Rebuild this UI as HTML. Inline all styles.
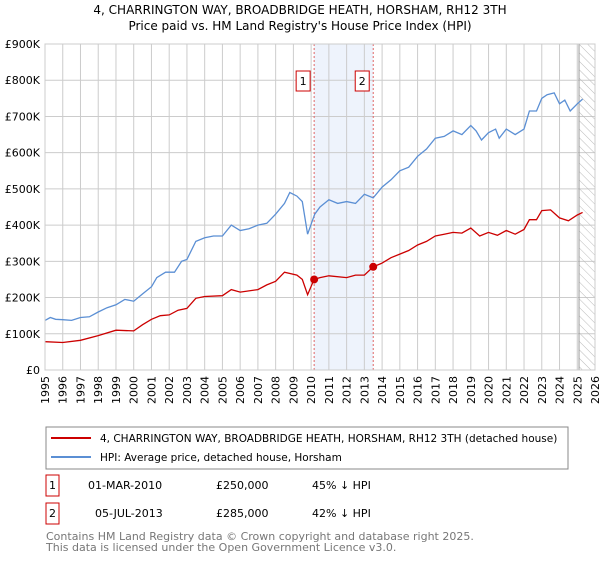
<!DOCTYPE html>
<html><head><meta charset="utf-8"><style>
body{margin:0;background:#fff;font-family:"Liberation Sans","DejaVu Sans",sans-serif}
svg text{font-family:"DejaVu Sans","Liberation Sans",sans-serif}
</style></head><body>
<svg id="c" width="600" height="560" xmlns="http://www.w3.org/2000/svg">
<defs><pattern id="hatch" width="6" height="6" patternUnits="userSpaceOnUse" patternTransform="rotate(-45)"><line x1="0" y1="0" x2="0" y2="6" stroke="#bbb" stroke-width="1"/></pattern></defs>
<text x="300" y="14" text-anchor="middle" font-size="12">4, CHARRINGTON WAY, BROADBRIDGE HEATH, HORSHAM, RH12 3TH</text>
<text x="300" y="30" text-anchor="middle" font-size="12">Price paid vs. HM Land Registry's House Price Index (HPI)</text>
<g id="plot"></g>
<rect x="46" y="427" width="522" height="42" fill="#fff" stroke="#888"/>
<line x1="51" y1="438" x2="91" y2="438" stroke="#cc0000" stroke-width="2"/>
<text x="100" y="442" font-size="10.5">4, CHARRINGTON WAY, BROADBRIDGE HEATH, HORSHAM, RH12 3TH (detached house)</text>
<line x1="51" y1="457" x2="91" y2="457" stroke="#5b8fd4" stroke-width="2"/>
<text x="100" y="461" font-size="10.5">HPI: Average price, detached house, Horsham</text>
<g font-size="11">
<rect x="46" y="475" width="13" height="21" fill="#fff" stroke="#cc0000"/><text x="52.5" y="489" text-anchor="middle">1</text>
<text x="88" y="489">01-MAR-2010</text><text x="216" y="489">£250,000</text><text x="312" y="489">45% ↓ HPI</text></g>
<g font-size="11">
<rect x="46" y="503" width="13" height="21" fill="#fff" stroke="#cc0000"/><text x="52.5" y="517" text-anchor="middle">2</text>
<text x="95" y="517">05-JUL-2013</text><text x="216" y="517">£285,000</text><text x="312" y="517">42% ↓ HPI</text></g>
<text x="46" y="540" font-size="11" fill="#777">Contains HM Land Registry data © Crown copyright and database right 2025.</text>
<text x="46" y="551" font-size="11" fill="#777">This data is licensed under the Open Government Licence v3.0.</text>
</svg>
<script>
const hpiYears=[1995,1995.3,1995.6,1996,1996.5,1997,1997.5,1998,1998.5,1999,1999.5,2000,2000.5,2001,2001.3,2001.8,2002.3,2002.7,2003,2003.5,2004,2004.5,2005,2005.5,2006,2006.5,2007,2007.5,2008,2008.5,2008.8,2009.2,2009.5,2009.8,2010.2,2010.5,2011,2011.5,2012,2012.5,2013,2013.5,2014,2014.5,2015,2015.5,2016,2016.5,2017,2017.5,2018,2018.5,2019,2019.3,2019.6,2020,2020.4,2020.6,2021,2021.5,2022,2022.3,2022.7,2023,2023.3,2023.7,2024,2024.3,2024.6,2025,2025.3];
const hpiValues=[137,145,140,139,137,145,147,160,172,180,195,190,210,230,255,270,270,300,305,355,365,370,370,400,385,390,400,405,430,460,490,480,465,375,430,450,470,460,465,460,485,475,505,525,550,560,590,610,640,645,660,650,675,660,635,655,665,640,665,650,665,715,715,750,760,765,735,745,715,735,748];
const priceYears=[1995,1996,1997,1998,1999,2000,2000.5,2001,2001.5,2002,2002.5,2003,2003.5,2004,2005,2005.5,2006,2007,2007.5,2008,2008.5,2009.2,2009.5,2009.8,2010.17,2010.5,2011,2012,2012.5,2013,2013.5,2014,2014.5,2015,2015.5,2016,2016.5,2017,2017.5,2018,2018.5,2019,2019.5,2020,2020.5,2021,2021.5,2022,2022.3,2022.7,2023,2023.5,2024,2024.5,2025,2025.3];
const priceValues=[78,76,82,95,110,108,125,140,150,152,165,170,198,203,205,222,215,222,235,245,270,262,250,208,250,255,260,255,262,262,285,295,310,320,330,345,355,370,375,380,378,392,370,380,372,385,375,388,415,415,440,442,420,412,428,435];
const saleYears=[2010.17,2013.5];
const saleValues=[250,285];
const saleLabels=["1","2"];
const yTicks=[0,100,200,300,400,500,600,700,800,900];
const yTickLabels=["£0","£100K","£200K","£300K","£400K","£500K","£600K","£700K","£800K","£900K"];
const xTicks=[];for(let y=1995;y<=2026;y++)xTicks.push(y);
const L=45,R=595,T=44,B=370,Y0=1995,Y1=2026,VMAX=900;
const sx=y=>L+(y-Y0)/(Y1-Y0)*(R-L);
const sy=v=>B-v/VMAX*(B-T);
const NS="http://www.w3.org/2000/svg";
const g=document.getElementById('plot');
function mk(t,a){const e=document.createElementNS(NS,t);for(const k in a)e.setAttribute(k,a[k]);g.appendChild(e);return e;}
let e=mk('rect',{x:sx(saleYears[0]),y:T,width:sx(saleYears[1])-sx(saleYears[0]),height:B-T,fill:'#eef3fc'});


xTicks.forEach(y=>{const l=mk('line',{x1:sx(y),x2:sx(y),y1:T,y2:B,stroke:'#ccc'});


const t=mk('text',{x:0,y:0,'font-size':11,'text-anchor':'end',transform:`translate(${sx(y)+4},${B+6}) rotate(-90)`});t.textContent=y;

});
yTicks.forEach((v,i)=>{const l=mk('line',{x1:L,x2:R,y1:sy(v),y2:sy(v),stroke:'#ccc'});


const t=mk('text',{x:L-5,y:sy(v)+4,'font-size':11,'text-anchor':'end'});t.textContent=yTickLabels[i];

});
e=mk('rect',{x:sx(2025.1),y:T,width:R-sx(2025.1),height:B-T,fill:'url(#hatch)',stroke:'#999'});


saleYears.forEach((y,i)=>{const l=mk('line',{x1:sx(y),x2:sx(y),y1:T,y2:B,stroke:'#e06666','stroke-dasharray':'2,2'});

});
function path(xs,vs,c,n){const d=xs.map((y,i)=>(i?'L':'M')+sx(y).toFixed(1)+','+sy(vs[i]).toFixed(1)).join('');
const p=mk('path',{d:d,fill:'none',stroke:c,'stroke-width':1.3});

}
path(hpiYears,hpiValues,'#5b8fd4','hpi-line');
path(priceYears,priceValues,'#cc0000','price-line');
saleYears.forEach((y,i)=>{const c=mk('circle',{cx:sx(y),cy:sy(saleValues[i]),r:4,fill:'#cc0000'});


const bx=sx(y)-11;
const r=mk('rect',{x:bx-7,y:71,width:14,height:20,fill:'#fff',stroke:'#cc0000'});


const t=mk('text',{x:bx,y:85,'font-size':11,'text-anchor':'middle'});t.textContent=saleLabels[i];

});
e=mk('rect',{x:L,y:T,width:R-L,height:B-T,fill:'none',stroke:'#ccc'});


</script>
</body></html>
